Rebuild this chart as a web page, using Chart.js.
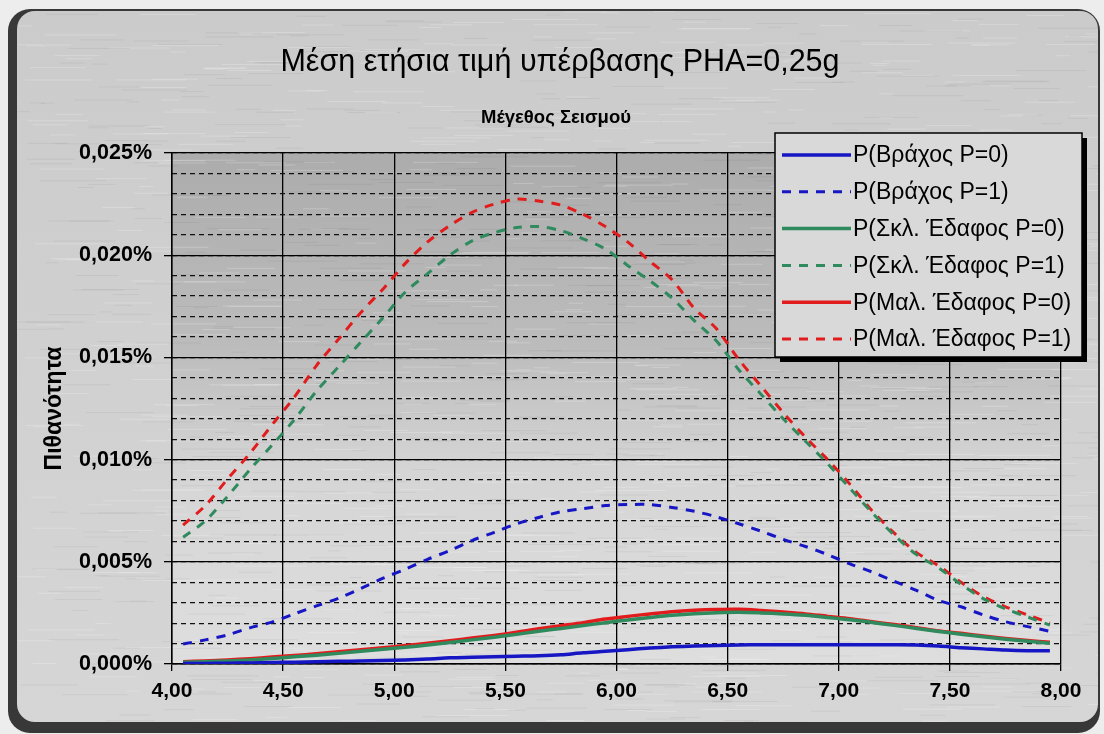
<!DOCTYPE html>
<html lang="el">
<head>
<meta charset="utf-8">
<title>Μέση ετήσια τιμή υπέρβασης PHA=0,25g</title>
<script src="https://cdn.jsdelivr.net/npm/chart.js@4.4.1/dist/chart.umd.min.js"></script>
<style>
    html, body { margin: 0; padding: 0; background: #ececec; }
    canvas { display: block; }
</style>
</head>
<body>
<canvas id="pha-chart" width="1104" height="734"></canvas>
<script>
// Μέγεθος σεισμού (x)
const magnitudes = [4.05, 4.15, 4.25, 4.35, 4.45, 4.55, 4.65, 4.75, 4.85, 4.95,
    5.05, 5.15, 5.25, 5.35, 5.45, 5.55, 5.65, 5.75, 5.85, 5.95,
    6.05, 6.15, 6.25, 6.35, 6.45, 6.55, 6.65, 6.75, 6.85, 6.95,
    7.05, 7.15, 7.25, 7.35, 7.45, 7.55, 7.65, 7.75, 7.85, 7.95];

// πιθανότητες σε %
const rockP0 = [0.00002, 0.00003, 0.00004, 0.00005, 0.00007, 0.00009, 0.00011, 0.00013, 0.00015, 0.00017,
    0.00020, 0.00024, 0.00030, 0.00033, 0.00036, 0.00038, 0.00040, 0.00045, 0.00055, 0.00062,
    0.00070, 0.00078, 0.00084, 0.00088, 0.00091, 0.00093, 0.00094, 0.00094, 0.00094, 0.00094,
    0.00094, 0.00094, 0.00094, 0.00093, 0.00088, 0.00080, 0.00074, 0.00068, 0.00065, 0.00065];
const rockP1 = [0.00098, 0.00118, 0.00142, 0.00177, 0.00205, 0.00245, 0.00284, 0.00322, 0.00370, 0.00420,
    0.00464, 0.00512, 0.00555, 0.00604, 0.00644, 0.00686, 0.00717, 0.00745, 0.00760, 0.00775,
    0.00780, 0.00780, 0.00766, 0.00747, 0.00720, 0.00686, 0.00650, 0.00610, 0.00575, 0.00535,
    0.00490, 0.00450, 0.00405, 0.00360, 0.00310, 0.00280, 0.00240, 0.00207, 0.00183, 0.00160];
const stiffP0 = [0.00008, 0.00011, 0.00015, 0.00020, 0.00027, 0.00035, 0.00043, 0.00052, 0.00062, 0.00072,
    0.00082, 0.00093, 0.00105, 0.00118, 0.00131, 0.00145, 0.00160, 0.00174, 0.00188, 0.00202,
    0.00215, 0.00227, 0.00238, 0.00246, 0.00251, 0.00253, 0.00250, 0.00245, 0.00238, 0.00228,
    0.00217, 0.00203, 0.00189, 0.00174, 0.00159, 0.00146, 0.00133, 0.00121, 0.00111, 0.00102];
const stiffP1 = [0.0062, 0.0070, 0.0082, 0.0095, 0.0107, 0.01195, 0.01335, 0.01455, 0.01575, 0.01695,
    0.0182, 0.0191, 0.0200, 0.0207, 0.0211, 0.02135, 0.0214, 0.0212, 0.0208, 0.0203,
    0.0195, 0.01875, 0.0179, 0.0168, 0.0158, 0.0144, 0.0132, 0.0120, 0.0109, 0.0098,
    0.0086, 0.0074, 0.0063, 0.00535, 0.0047, 0.0039, 0.0032, 0.0027, 0.0023, 0.0019];
const softP0 = [0.00011, 0.00015, 0.00020, 0.00026, 0.00034, 0.00042, 0.00050, 0.00060, 0.00070, 0.00080,
    0.00090, 0.00102, 0.00114, 0.00127, 0.00140, 0.00155, 0.00172, 0.00187, 0.00202, 0.00220,
    0.00233, 0.00245, 0.00256, 0.00263, 0.00267, 0.00268, 0.00262, 0.00254, 0.00245, 0.00233,
    0.00222, 0.00207, 0.00193, 0.00178, 0.00162, 0.00150, 0.00137, 0.00125, 0.00115, 0.00106];
const softP1 = [0.0068, 0.00775, 0.00905, 0.0103, 0.0117, 0.01305, 0.0146, 0.0159, 0.0172, 0.01835,
    0.0196, 0.02065, 0.02145, 0.0221, 0.0225, 0.02275, 0.02265, 0.02245, 0.0220, 0.0214,
    0.02065, 0.0197, 0.0188, 0.0174, 0.0164, 0.0149, 0.0136, 0.0123, 0.0111, 0.0100,
    0.0088, 0.0075, 0.0064, 0.00545, 0.0048, 0.0040, 0.0033, 0.0028, 0.0024, 0.0020];

const seriesLabels = ['P(Βράχος P=0)', 'P(Βράχος P=1)', 'P(Σκλ. Έδαφος P=0)',
    'P(Σκλ. Έδαφος P=1)', 'P(Μαλ. Έδαφος P=0)', 'P(Μαλ. Έδαφος P=1)'];

const xMin = 4;
const xMax = 8;
const xStep = 0.5;
const yMin = 0;
const yMax = 0.025;
const yMajorStep = 0.005;
const yMinorStep = 0.001;

const FONT = "'Liberation Sans', Arial, sans-serif";
const BLUE = '#1616c4';
const GREEN = '#2f8a5e';
const RED = '#e21c1c';

const toPoints = (values) => magnitudes.map((x, i) => ({ x, y: values[i] }));
const comma = (value, digits) => Number(value).toFixed(digits).replace('.', ',');

const solid = (label, values, color) => ({
    label,
    data: toPoints(values),
    borderColor: color,
    borderWidth: 3.5,
    tension: 0.3,
    pointRadius: 0,
    fill: false,
});

const dashed = (label, values, color) => ({
    ...solid(label, values, color),
    borderWidth: 3,
    borderDash: [9, 8],
});

const framePlugin = {
    id: 'frame',
    beforeDraw(chart) {
        const { ctx, width, height, chartArea } = chart;
        ctx.save();
        ctx.fillStyle = '#ededed';
        ctx.fillRect(0, 0, width, height);

        ctx.beginPath();
        ctx.roundRect(8, 9, 1092, 724, 22);
        ctx.fillStyle = '#383838';
        ctx.fill();

        ctx.beginPath();
        ctx.roundRect(17, 11, 1081, 711, 18);
        const inner = ctx.createLinearGradient(0, 11, 0, 722);
        inner.addColorStop(0, '#cbcbcb');
        inner.addColorStop(1, '#d6d6d6');
        ctx.fillStyle = inner;
        ctx.fill();
        ctx.clip();

        const { left, top, right, bottom } = chartArea;
        const plot = ctx.createLinearGradient(0, top, 0, bottom);
        plot.addColorStop(0, '#acacac');
        plot.addColorStop(0.38, '#bcbcbc');
        plot.addColorStop(0.62, '#d5d5d5');
        plot.addColorStop(1, '#dedede');
        ctx.fillStyle = plot;
        ctx.fillRect(left, top, right - left, bottom - top);

        // brushed metal streaks
        let seed = 11;
        const next = () => (seed = (seed * 16807) % 2147483647) / 2147483647;
        for (let i = 0; i < 1400; i++) {
            const x = 17 + next() * 1080;
            const y = 11 + next() * 711;
            const w = 12 + next() * 60;
            ctx.fillStyle = next() > 0.5 ? 'rgba(255,255,255,0.22)' : 'rgba(0,0,0,0.05)';
            ctx.fillRect(x, y, w, 1);
        }
        ctx.restore();
    },
};

const titlesPlugin = {
    id: 'titles',
    afterDraw(chart) {
        const { ctx } = chart;
        ctx.save();
        ctx.fillStyle = '#000';
        ctx.textAlign = 'center';
        ctx.textBaseline = 'middle';
        ctx.font = `30.5px ${FONT}`;
        ctx.fillText('Μέση ετήσια τιμή υπέρβασης PHA=0,25g', 560, 63);
        ctx.font = `bold 18.5px ${FONT}`;
        ctx.fillText('Μέγεθος Σεισμού', 556, 118);
        ctx.restore();
    },
};

const legendPlugin = {
    id: 'boxLegend',
    afterDraw(chart) {
        const { ctx } = chart;
        const box = { x: 775, y: 133, w: 307, h: 224 };
        ctx.save();
        ctx.fillStyle = '#000';
        ctx.fillRect(box.x + 5, box.y + 5, box.w, box.h);
        ctx.fillStyle = '#d9d9d9';
        ctx.fillRect(box.x, box.y, box.w, box.h);
        ctx.strokeStyle = '#000';
        ctx.lineWidth = 1.5;
        ctx.strokeRect(box.x, box.y, box.w, box.h);

        ctx.font = `23px ${FONT}`;
        ctx.textBaseline = 'middle';
        chart.data.datasets.forEach((ds, i) => {
            const y = box.y + 22 + i * 36.8;
            ctx.beginPath();
            ctx.setLineDash(ds.borderDash || []);
            ctx.strokeStyle = ds.borderColor;
            ctx.lineWidth = ds.borderWidth;
            ctx.moveTo(782, y);
            ctx.lineTo(851, y);
            ctx.stroke();
            ctx.setLineDash([]);
            ctx.fillStyle = '#000';
            ctx.fillText(ds.label, 853, y + 1);
        });
        ctx.restore();
    },
};

new Chart(document.getElementById('pha-chart'), {
    type: 'line',
    data: {
        datasets: [
            solid(seriesLabels[0], rockP0, BLUE),
            dashed(seriesLabels[1], rockP1, BLUE),
            solid(seriesLabels[2], stiffP0, GREEN),
            dashed(seriesLabels[3], stiffP1, GREEN),
            solid(seriesLabels[4], softP0, RED),
            dashed(seriesLabels[5], softP1, RED),
        ],
    },
    options: {
        responsive: false,
        animation: false,
        devicePixelRatio: 1,
        layout: {
            padding: { left: 0, right: 43, top: 153, bottom: 0 },
        },
        plugins: {
            legend: { display: false },
            title: { display: false },
            tooltip: { enabled: false },
        },
        scales: {
            x: {
                type: 'linear',
                min: xMin,
                max: xMax,
                ticks: {
                    stepSize: xStep,
                    maxRotation: 0,
                    color: '#000',
                    padding: 8,
                    font: { family: FONT, size: 21, weight: 'bold' },
                    callback: (value) => comma(value, 2),
                },
                grid: { color: '#000', lineWidth: 1.3, tickLength: 7 },
                border: { color: '#000', width: 1.5 },
                afterFit: (scale) => { scale.height = 70; },
            },
            yMinor: {
                type: 'linear',
                position: 'left',
                min: yMin,
                max: yMax,
                ticks: { display: false, stepSize: yMinorStep },
                grid: { color: '#111', lineWidth: 1.2, drawTicks: false, tickLength: 0 },
                border: { display: false, dash: [5, 4] },
                afterFit: (scale) => { scale.width = 0; },
            },
            y: {
                type: 'linear',
                position: 'left',
                min: yMin,
                max: yMax,
                ticks: {
                    stepSize: yMajorStep,
                    color: '#000',
                    padding: 12,
                    font: { family: FONT, size: 21.5, weight: 'bold' },
                    callback: (value) => `${comma(value, 3)}%`,
                },
                grid: { color: '#000', lineWidth: 1.3, tickLength: 8 },
                border: { color: '#000', width: 1.5 },
                title: {
                    display: true,
                    text: 'Πιθανότητα',
                    color: '#000',
                    font: { family: FONT, size: 23, weight: 'bold' },
                    padding: { top: 41, bottom: 0 },
                },
                afterFit: (scale) => { scale.width = 172; },
            },
        },
    },
    plugins: [framePlugin, titlesPlugin, legendPlugin],
});
</script>
</body>
</html>
